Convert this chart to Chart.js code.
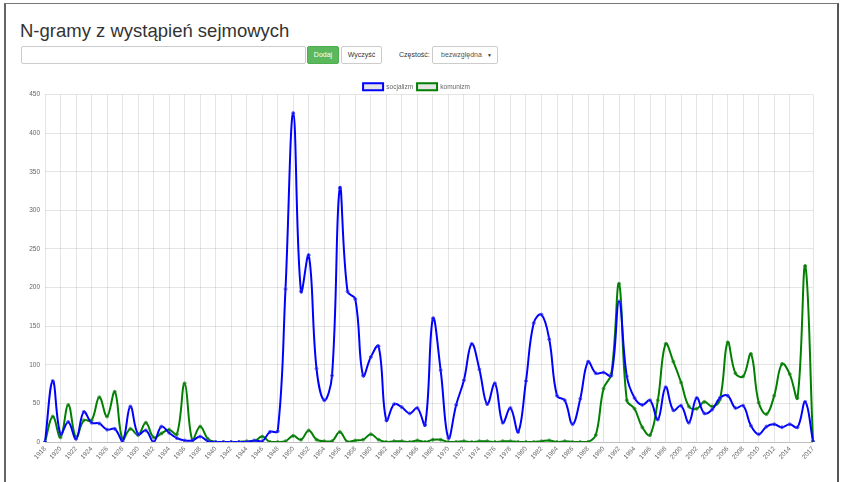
<!DOCTYPE html>
<html>
<head>
<meta charset="utf-8">
<script src="https://cdn.jsdelivr.net/npm/chart.js@4.4.1/dist/chart.umd.min.js"></script>
<style>
  html, body { margin: 0; padding: 0; background: #fff; width: 841px; height: 482px; overflow: hidden; font-family: "Liberation Sans", Arial, sans-serif; }
  .frame { position: absolute; left: 4px; top: 3px; width: 831px; height: 600px; border-left: 2px solid #666; border-right: 2px solid #555; border-top: 1px solid #777; }
  .title { position: absolute; left: 20px; top: 22px; font-size: 18.5px; line-height: 18px; color: #333; white-space: nowrap; }
  .input { position: absolute; left: 21px; top: 46px; width: 285px; height: 18px; box-sizing: border-box; border: 1px solid #ccc; border-radius: 2px; background: #fff; }
  .btn { position: absolute; top: 46px; height: 18px; box-sizing: border-box; border-radius: 2px; font-size: 7px; line-height: 16px; text-align: center; }
  .add { left: 307px; width: 32px; background: #5cb85c; border: 1px solid #4cae4c; color: #fff; }
  .clr { left: 341px; width: 41px; background: #fff; border: 1px solid #ccc; color: #333; }
  .lbl { position: absolute; left: 399px; top: 46px; height: 18px; line-height: 18px; font-size: 7px; color: #333; }
  .sel { position: absolute; left: 432px; top: 46px; width: 66px; height: 18px; box-sizing: border-box; border: 1px solid #ccc; border-radius: 2px; font-size: 7px; line-height: 16px; color: #555; padding-left: 8px; }
  .sel .arr { position: absolute; right: 5px; top: 0; font-size: 5px; color: #333; }
  #c { position: absolute; left: 20px; top: 75px; }
</style>
</head>
<body>
<div class="frame"></div>
<div class="title">N-gramy z wystąpień sejmowych</div>
<div class="input"></div>
<div class="btn add">Dodaj</div>
<div class="btn clr">Wyczyść</div>
<div class="lbl">Częstość:</div>
<div class="sel">bezwzględna<span class="arr">▼</span></div>
<canvas id="c" width="800" height="405"></canvas>
<script>
const years = [];
for (let y = 1918; y <= 2017; y++) years.push(String(y));

const seriesNames = ["socjalizm", "komunizm"];

const socjalizm = [
  0, 79, 10, 26, 4, 39, 25, 24, 16, 17,
  1, 46, 10, 15, 0, 20, 12, 5, 2, 2,
  7, 1, 0, 0, 0, 0, 0, 2, 1, 13,
  14, 198, 426, 195, 242, 95, 54, 86, 329, 195,
  185, 86, 110, 124, 28, 49, 45, 37, 44, 22,
  160, 93, 5, 48, 80, 127, 94, 49, 76, 25,
  44, 13, 79, 154, 165, 133, 60, 54, 23, 56,
  104, 89, 90, 86, 182, 85, 57, 48, 54, 29,
  71, 41, 47, 25, 57, 37, 42, 57, 60, 44,
  47, 21, 10, 20, 23, 19, 23, 19, 52, 1
];

const komunizm = [
  0, 33, 6, 48, 6, 28, 28, 58, 33, 65,
  3, 17, 9, 25, 6, 11, 16, 10, 76, 2,
  20, 4, 0, 0, 0, 0, 1, 1, 7, 0,
  0, 1, 8, 3, 15, 3, 1, 1, 13, 0,
  2, 3, 10, 3, 0, 1, 1, 0, 2, 0,
  3, 3, 0, 0, 1, 0, 1, 1, 0, 1,
  1, 0, 0, 0, 1, 2, 0, 1, 0, 0,
  0, 9, 69, 88, 205, 54, 43, 19, 9, 54,
  127, 104, 77, 46, 43, 52, 46, 55, 129, 89,
  85, 114, 51, 36, 60, 101, 88, 57, 228, 0
];

const yTicks = { min: 0, max: 450, step: 50 };

const FONT = { family: "'Liberation Sans', Arial, sans-serif", size: 6.5 };

const legendFix = {
  id: 'legendFix',
  beforeLayout(chart) {
    const lg = chart.legend;
    if (lg && !lg._fixed) {
      const orig = lg.fit;
      lg.fit = function () { orig.call(this); this.height = 15.25; };
      lg._fixed = true;
    }
  }
};

new Chart(document.getElementById('c'), {
  type: 'line',
  data: {
    labels: years,
    datasets: [
      {
        label: seriesNames[0], data: socjalizm,
        borderColor: 'blue', backgroundColor: 'rgba(0,0,0,0.1)',
        borderWidth: 2, tension: 0.4, fill: false,
        pointRadius: 1.5, pointBorderWidth: 1,
        pointBorderColor: 'rgba(60,60,255,0.8)', pointBackgroundColor: 'rgba(0,0,0,0.1)'
      },
      {
        label: seriesNames[1], data: komunizm,
        borderColor: 'green', backgroundColor: 'rgba(0,0,0,0.1)',
        borderWidth: 2, tension: 0.4, fill: false,
        pointRadius: 1.5, pointBorderWidth: 1,
        pointBorderColor: 'rgba(40,140,40,0.8)', pointBackgroundColor: 'rgba(0,0,0,0.1)'
      }
    ]
  },
  options: {
    responsive: false,
    animation: false,
    devicePixelRatio: 1,
    layout: { padding: { top: 4.25, right: 7, left: 0, bottom: 0 } },
    plugins: {
      legend: {
        position: 'top',
        labels: { boxWidth: 20, boxHeight: 7, padding: 4, color: '#666', font: FONT }
      },
      tooltip: { enabled: false }
    },
    scales: {
      x: {
        offset: false,
        grid: { color: 'rgba(0,0,0,0.1)', drawTicks: false, offset: false },
        border: { display: false },
        ticks: {
          autoSkip: false, minRotation: 48, maxRotation: 48, padding: 3,
          color: '#666', font: FONT
        },
        afterBuildTicks(scale) {
          const n = years.length;
          scale.ticks = scale.ticks.filter(t => (t.value % 2 === 0 && t.value <= n - 4) || t.value === n - 1);
        },
        afterFit(scale) { scale.height = 38; scale.paddingLeft = 0; scale.paddingRight = 0; }
      },
      y: {
        min: yTicks.min, max: yTicks.max,
        grid: {
          drawTicks: false,
          color: (ctx) => ctx.tick && ctx.tick.value === 0 ? 'rgba(0,0,0,0.25)' : 'rgba(0,0,0,0.1)'
        },
        border: { display: false },
        ticks: { stepSize: yTicks.step, padding: 5, color: '#666', font: FONT },
        afterFit(scale) { scale.width = 25; }
      }
    }
  },
  plugins: [legendFix]
});
</script>
</body>
</html>
